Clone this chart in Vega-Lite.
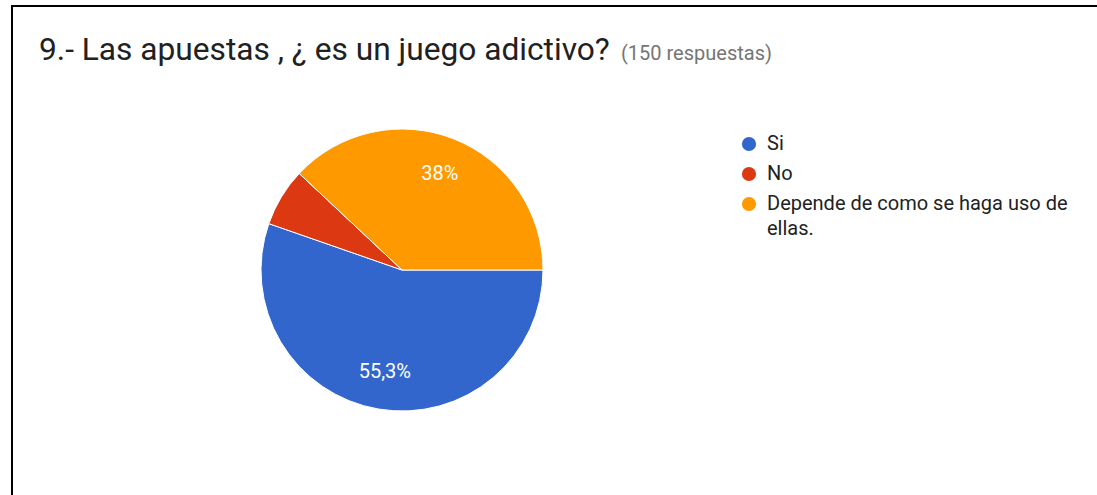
{
  "$schema": "https://vega.github.io/schema/vega-lite/v6.json",
  "width": 1091,
  "height": 495,
  "autosize": {"type": "none"},
  "padding": {"left": 12, "top": 6, "right": -6, "bottom": -6},
  "background": "white",
  "view": {"stroke": "black", "strokeWidth": 2, "fill": "white"},
  "title": {
    "text": "9.- Las apuestas , ¿ es un juego adictivo?",
    "anchor": "start",
    "frame": "group",
    "orient": "top",
    "offset": -86,
    "dx": 27,
    "baseline": "alphabetic",
    "font": "Roboto",
    "fontSize": 31.7,
    "fontWeight": "normal",
    "color": "#212121"
  },
  "data": {
    "values": [
      {"respuesta": "Si", "cantidad": 83, "porcentaje": "55,3%", "orden": 1},
      {"respuesta": "No", "cantidad": 10, "porcentaje": "", "orden": 2},
      {"respuesta": "Depende de como se haga uso de ellas.", "cantidad": 57, "porcentaje": "38%", "orden": 3}
    ]
  },
  "encoding": {
    "theta": {"field": "cantidad", "type": "quantitative", "stack": true, "scale": {"range": [1.5707963, 7.8539816]}},
    "order": {"field": "orden", "type": "quantitative"}
  },
  "layer": [
    {
      "mark": {"type": "arc", "x": 390, "y": 264, "outerRadius": 141, "stroke": "white", "strokeWidth": 1},
      "encoding": {
        "color": {
          "field": "respuesta",
          "type": "nominal",
          "scale": {
            "domain": ["Si", "No", "Depende de como se haga uso de ellas."],
            "range": ["#3366cc", "#dc3912", "#ff9900"]
          },
          "legend": {
            "orient": "none",
            "legendX": 609,
            "legendY": 38,
            "padding": 0,
            "title": "(150 respuestas)",
            "titleFont": "Roboto",
            "titleFontSize": 20,
            "titleFontWeight": "normal",
            "titleColor": "#757575",
            "titlePadding": 70,
            "titleLimit": 400,
            "symbolType": "circle",
            "symbolSize": 200,
            "symbolStrokeWidth": 0,
            "symbolOffset": 118,
            "labelOffset": 8,
            "labelFont": "Roboto",
            "labelFontSize": 20,
            "labelColor": "#222222",
            "labelLimit": 500,
            "rowPadding": 10,
            "labelExpr": "datum.label == 'Depende de como se haga uso de ellas.' ? ['Depende de como se haga uso de', 'ellas.'] : datum.label"
          }
        }
      }
    },
    {
      "mark": {"type": "text", "x": 390, "y": 264, "radius": 103, "font": "Roboto", "fontSize": 20},
      "encoding": {
        "text": {"field": "porcentaje", "type": "nominal"},
        "color": {"value": "white"}
      }
    }
  ],
  "config": {
    "view": {"stroke": "black", "strokeWidth": 2},
    "style": {"guide-label": {"lineHeight": 25}}
  }
}
